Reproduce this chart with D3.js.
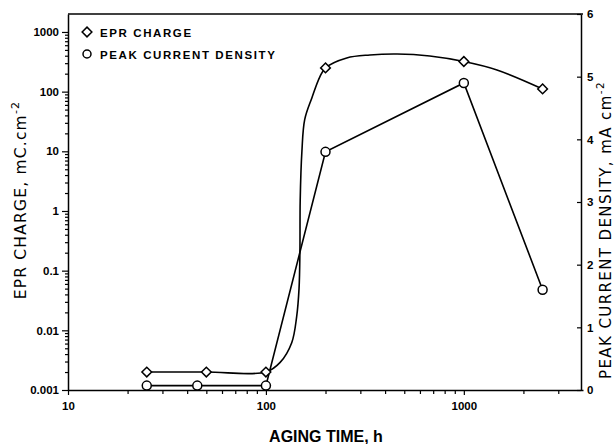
<!DOCTYPE html>
<html>
<head>
<meta charset="utf-8" />
<title>EPR charge vs aging time</title>
<script src="https://d3js.org/d3.v7.min.js"></script>
<style>
  body { margin: 0; background: #fff; }
  text { fill: #000; }
</style>
</head>
<body>
<svg width="616" height="444" id="svg1"></svg>
<script>
// aging time (h) and measured values
var eprTime = [25, 50, 100, 200, 1000, 2500];
var eprCharge = [0.002, 0.002, 0.002, 250, 320, 111];
var pcdTime = [25, 45, 100, 200, 1000, 2500];
var pcdValue = [0.07, 0.07, 0.07, 3.8, 4.9, 1.6];

// hand-drawn fit through the EPR points
var fitTime = [25, 50, 100, 118, 135, 143, 147, 148.5, 149, 152, 157, 171, 187, 200, 256, 335, 460, 673, 1000, 1470, 2500];
var fitCharge = [0.002, 0.002, 0.002, 0.0029, 0.0062, 0.017, 0.05, 0.2, 1.5, 10, 34, 80, 175, 250, 367, 412, 428, 396, 320, 231, 111];

var xTickVals = [10, 100, 1000];
var xTickLabels = ["10", "100", "1000"];
var leftTickVals = [0.001, 0.01, 0.1, 1, 10, 100, 1000];
var leftTickLabels = ["0.001", "0.01", "0.1", "1", "10", "100", "1000"];
var rightTickVals = [0, 1, 2, 3, 4, 5, 6];

var svg = d3.select("#svg1");
var x = d3.scaleLog().domain([10, 4000]).range([68, 583]);
var yL = d3.scaleLog().domain([0.001, 2000]).range([390, 14]);
var yR = d3.scaleLinear().domain([0, 6]).range([390, 14]);

var tickFont = "'Liberation Sans', Arial, sans-serif";

// frame
svg.append("line").attr("x1", 68).attr("x2", 583).attr("y1", 14).attr("y2", 14)
   .attr("stroke", "#000").attr("stroke-width", 1.5);

// minor ticks
var xMinor = [];
[10, 100, 1000].forEach(function(d) { for (var i = 2; i <= 9; i++) if (d * i < 4000) xMinor.push(d * i); });
var yMinor = [];
[0.001, 0.01, 0.1, 1, 10, 100, 1000].forEach(function(d) { for (var i = 2; i <= 9; i++) if (d * i < 2000) yMinor.push(d * i); });

// bottom axis
svg.append("g").attr("transform", "translate(0,390)")
  .call(d3.axisBottom(x).tickValues(xTickVals).tickFormat(function(d, i) { return xTickLabels[i]; })
        .tickSize(5).tickSizeOuter(0).tickPadding(7));
svg.append("g").attr("transform", "translate(0,390)")
  .call(d3.axisBottom(x).tickValues(xMinor).tickFormat("").tickSize(4).tickSizeOuter(0))
  .select(".domain").remove();

// left axis
svg.append("g").attr("transform", "translate(68,0)")
  .call(d3.axisLeft(yL).tickValues(leftTickVals).tickFormat(function(d, i) { return leftTickLabels[i]; })
        .tickSize(6).tickSizeOuter(0).tickPadding(3));
svg.append("g").attr("transform", "translate(68,0)")
  .call(d3.axisLeft(yL).tickValues(yMinor).tickFormat("").tickSize(3).tickSizeOuter(0))
  .select(".domain").remove();

// right axis (ticks point inward)
svg.append("g").attr("transform", "translate(581,0)")
  .call(d3.axisRight(yR).tickValues(rightTickVals).tickFormat(d3.format("d"))
        .tickSize(-4).tickSizeOuter(0).tickPadding(6));

svg.selectAll(".domain").attr("stroke-width", 1.5);
svg.selectAll(".tick line").attr("stroke-width", 1.2);
svg.selectAll(".tick text").attr("font-family", tickFont).attr("font-size", 11.5)
   .attr("font-weight", "bold").attr("fill", "#000");

// EPR fit curve
var fitLine = d3.line()
  .x(function(d, i) { return x(fitTime[i]); })
  .y(function(d, i) { return yL(fitCharge[i]); })
  .curve(d3.curveCatmullRom.alpha(0.5));
svg.append("path").attr("d", fitLine(fitTime))
   .attr("fill", "none").attr("stroke", "#000").attr("stroke-width", 1.6);

// peak current density line
var pcdLine = d3.line()
  .x(function(d, i) { return x(pcdTime[i]); })
  .y(function(d, i) { return yR(pcdValue[i]); });
svg.append("path").attr("d", pcdLine(pcdTime))
   .attr("fill", "none").attr("stroke", "#000").attr("stroke-width", 1.6);

var diamond = d3.symbol().type(d3.symbolDiamond2).size(60);

svg.selectAll(".epr").data(eprTime).enter().append("path")
   .attr("d", diamond)
   .attr("transform", function(d, i) { return "translate(" + x(d) + "," + yL(eprCharge[i]) + ")"; })
   .attr("fill", "#fff").attr("stroke", "#000").attr("stroke-width", 1.5);

svg.selectAll(".pcd").data(pcdTime).enter().append("circle")
   .attr("cx", function(d) { return x(d); })
   .attr("cy", function(d, i) { return yR(pcdValue[i]); })
   .attr("r", 4.5)
   .attr("fill", "#fff").attr("stroke", "#000").attr("stroke-width", 1.5);

// legend
svg.append("path").attr("d", diamond).attr("transform", "translate(87,32)")
   .attr("fill", "#fff").attr("stroke", "#000").attr("stroke-width", 1.5);
svg.append("circle").attr("cx", 87).attr("cy", 54).attr("r", 4)
   .attr("fill", "#fff").attr("stroke", "#000").attr("stroke-width", 1.5);
svg.append("text").attr("x", 100).attr("y", 36.5).text("EPR CHARGE")
   .attr("font-family", tickFont).attr("font-weight", "bold").attr("font-size", 11.5)
   .attr("letter-spacing", 1.6);
svg.append("text").attr("x", 100).attr("y", 59).text("PEAK CURRENT DENSITY")
   .attr("font-family", tickFont).attr("font-weight", "bold").attr("font-size", 11.5)
   .attr("letter-spacing", 1.6);

// axis titles
var lt = svg.append("text").attr("transform", "translate(26,200) rotate(-90)")
   .attr("text-anchor", "middle").attr("font-family", "'DejaVu Sans', sans-serif")
   .attr("font-size", 15.5).attr("letter-spacing", 1.2);
lt.append("tspan").text("EPR CHARGE, mC.cm");
lt.append("tspan").attr("dy", -7).attr("font-size", 11).text("-2");

var rt = svg.append("text").attr("transform", "translate(611,230) rotate(-90)")
   .attr("text-anchor", "middle").attr("font-family", "'DejaVu Sans', sans-serif")
   .attr("font-size", 15).attr("letter-spacing", 1.4);
rt.append("tspan").text("PEAK CURRENT DENSITY, mA cm");
rt.append("tspan").attr("dy", -7).attr("font-size", 10.5).text("-2");

svg.append("text").attr("x", 326).attr("y", 442).attr("text-anchor", "middle")
   .attr("font-family", tickFont).attr("font-weight", "bold").attr("font-size", 16)
   .text("AGING TIME, h");
</script>
</body>
</html>
